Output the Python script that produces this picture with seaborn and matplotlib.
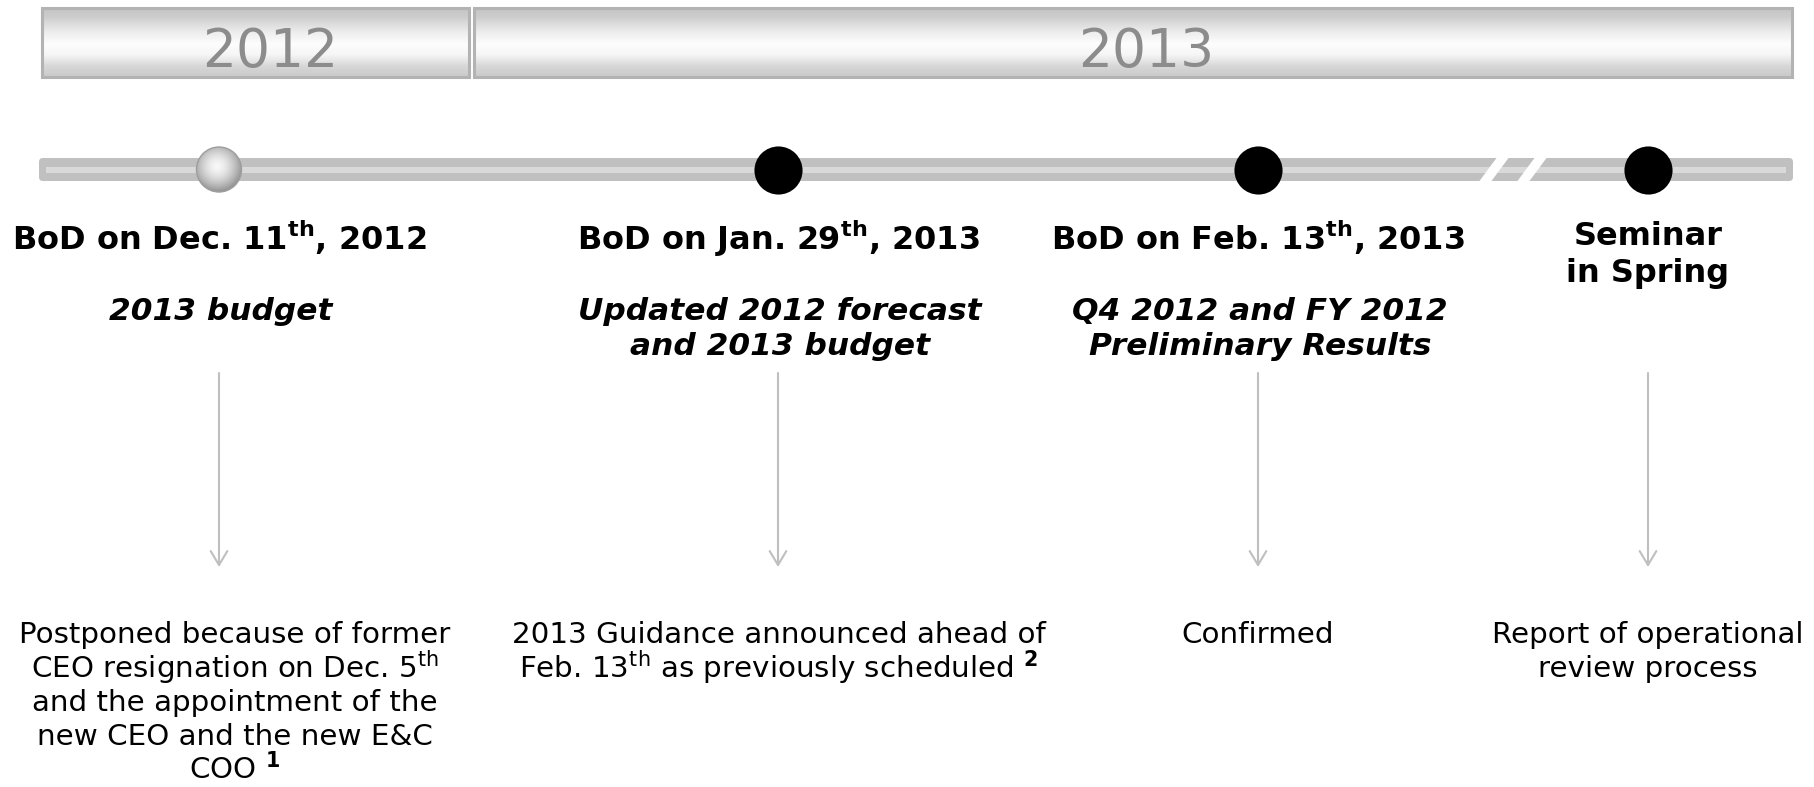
"""Board meeting timeline: 2012 budget postponement and 2013 guidance."""

import matplotlib.pyplot as plt
import numpy as np
import seaborn as sns
from matplotlib.patches import Circle, FancyBboxPatch, Polygon, Rectangle

# --- data -----------------------------------------------------------------
YEARS = ["2012", "2013"]
YEAR_SPANS = [(42, 469), (474, 1792)]
YEAR_LABEL_X = [270, 1146]

EVENT_X = [219, 778, 1258, 1648]
EVENT_STATUS = ["postponed", "held", "held", "planned"]
EVENT_TITLES = [
    r"BoD on Dec. 11$^{\mathregular{th}}$, 2012",
    r"BoD on Jan. 29$^{\mathregular{th}}$, 2013",
    r"BoD on Feb. 13$^{\mathregular{th}}$, 2013",
    "Seminar\nin Spring",
]
EVENT_TOPICS = [
    "2013 budget",
    "Updated 2012 forecast\nand 2013 budget",
    "Q4 2012 and FY 2012\nPreliminary Results",
    "",
]
EVENT_OUTCOMES = [
    "Postponed because of former\n"
    r"CEO resignation on Dec. 5$^{\mathregular{th}}$" "\n"
    "and the appointment of the\n"
    "new CEO and the new E&C\n"
    r"COO $^{\mathbf{1}}$",
    "2013 Guidance announced ahead of\n"
    r"Feb. 13$^{\mathregular{th}}$ as previously scheduled $^{\mathbf{2}}$",
    "Confirmed",
    "Report of operational\nreview process",
]

# --- layout (pixels) ------------------------------------------------------
W, H = 1814, 787
HEADER_TOP, HEADER_BOTTOM = 8, 77
LINE_Y = 169.5
OUTCOME_SHIFT = [16, 1, 0, 0]


def stacked_text(ax, x, y, text, step, **kw):
    """Write each line on its own baseline so the first line stays put."""
    for k, line in enumerate(text.split("\n")):
        ax.text(x, y + k * step, line, ha="center", va="baseline", **kw)


def draw_year_headers(ax):
    """Grey gradient boxes with the year in the middle."""
    pos = np.linspace(0, 1, 200)
    shade = np.interp(pos, [0, 0.12, 0.35, 0.52, 0.68, 0.85, 1],
                      [0.77, 0.80, 0.93, 0.99, 0.96, 0.84, 0.79])[:, None]
    for year, (x0, x1), tx in zip(YEARS, YEAR_SPANS, YEAR_LABEL_X):
        ax.imshow(shade, extent=(x0, x1, HEADER_BOTTOM, HEADER_TOP), cmap="gray",
                  vmin=0, vmax=1, aspect="auto", zorder=1, interpolation="bilinear")
        ax.add_patch(Rectangle((x0, HEADER_TOP), x1 - x0, HEADER_BOTTOM - HEADER_TOP,
                               fc="none", ec="#b3b3b3", lw=2.2, zorder=2))
        ax.text(tx, 67, year, ha="center", va="baseline", fontsize=38.5,
                color="#8c8c8c", fontweight="normal", zorder=3)


def draw_timeline(ax):
    """Rounded grey rail with a break mark before the last event."""
    ax.add_patch(FancyBboxPatch((39, 158), 1754, 23, boxstyle="round,pad=0,rounding_size=4",
                                fc="#c0c0c0", ec="none", zorder=2))
    ax.add_patch(Rectangle((46, 166.5), 1740, 6, fc="#d9d9d9", ec="none", zorder=3))
    for bx in (1478, 1516):
        ax.add_patch(Polygon([(bx, 183), (bx + 12, 183), (bx + 32, 156), (bx + 20, 156)],
                             fc="white", ec="none", zorder=4))


def draw_markers(ax):
    """Black dots for meetings, shaded grey ball for the postponed one."""
    held = [x for x, s in zip(EVENT_X, EVENT_STATUS) if s != "postponed"]
    sns.scatterplot(x=held, y=[LINE_Y] * len(held), s=1200, color="black",
                    linewidth=0, legend=False, ax=ax, zorder=5)

    r = 22.5
    yy, xx = np.mgrid[-1:1:120j, -1:1:120j]
    dist = np.hypot(xx + 0.1, yy + 0.15)
    ball = np.clip(0.97 - 0.32 * dist ** 1.6, 0, 1)
    for x, s in zip(EVENT_X, EVENT_STATUS):
        if s != "postponed":
            continue
        im = ax.imshow(ball, extent=(x - r, x + r, LINE_Y + r, LINE_Y - r), cmap="gray",
                       vmin=0, vmax=1, zorder=5, interpolation="bilinear")
        clip = Circle((x, LINE_Y), r, transform=ax.transData)
        im.set_clip_path(clip)
        ax.add_patch(Circle((x, LINE_Y), r, fc="none", ec="#9e9e9e", lw=1, zorder=6))


def draw_labels(ax):
    """Meeting titles, topics, arrows and outcomes."""
    for i, x in enumerate(EVENT_X):
        title_y = 250 if "\n" not in EVENT_TITLES[i] else 245
        stacked_text(ax, x, title_y, EVENT_TITLES[i], 37, fontsize=23,
                     fontweight="bold", color="black")
        if EVENT_TOPICS[i]:
            stacked_text(ax, x + 2, 320, EVENT_TOPICS[i], 35, fontsize=22.5,
                         fontweight="bold", fontstyle="italic", color="black")
        ax.annotate("", xy=(x, 567), xytext=(x, 373),
                    arrowprops=dict(arrowstyle="->,head_length=1.0,head_width=0.6",
                                    color="#bfbfbf", lw=1.5, shrinkA=0, shrinkB=0,
                                    mutation_scale=10))
        stacked_text(ax, x + OUTCOME_SHIFT[i], 643, EVENT_OUTCOMES[i], 34,
                     fontsize=21.2, color="black")


sns.set_theme(style="white")
plt.rcParams["font.family"] = ["DejaVu Sans"]
plt.rcParams["mathtext.fontset"] = "dejavusans"

fig = plt.figure(figsize=(W / 100, H / 100), dpi=100)
ax = fig.add_axes([0, 0, 1, 1])

draw_year_headers(ax)
draw_timeline(ax)
draw_markers(ax)
draw_labels(ax)

ax.set_xlim(0, W)
ax.set_ylim(H, 0)
ax.set_aspect("auto")
ax.axis("off")
fig.savefig("out.png", dpi=100, facecolor="white")
